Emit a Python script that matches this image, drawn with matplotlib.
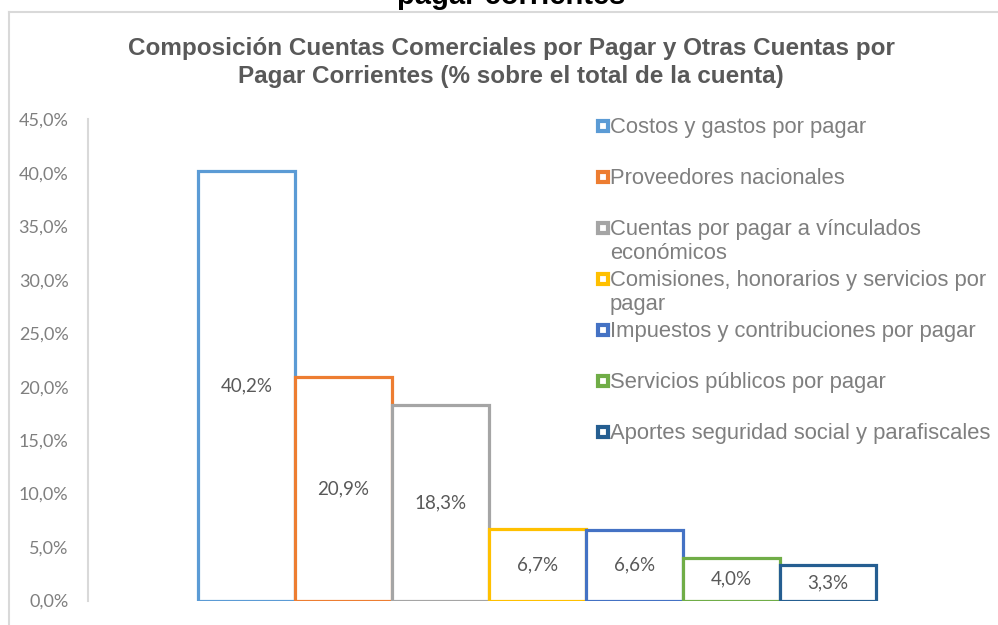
import matplotlib
matplotlib.use("Agg")
import matplotlib.pyplot as plt
from matplotlib.lines import Line2D
from matplotlib.ticker import FuncFormatter


CATEGORIES = [
    "Costos y gastos por pagar",
    "Proveedores nacionales",
    "Cuentas por pagar a vínculados\neconómicos",
    "Comisiones, honorarios y servicios por\npagar",
    "Impuestos y contribuciones por pagar",
    "Servicios públicos por pagar",
    "Aportes seguridad social y parafiscales",
]
VALUES = [40.2, 20.9, 18.3, 6.7, 6.6, 4.0, 3.3]
COLORS = ["#5b9bd5", "#ed7d31", "#a5a5a5", "#ffc000", "#4472c4", "#70ad47", "#255e91"]
Y_TICKS = [0, 5, 10, 15, 20, 25, 30, 35, 40, 45]

TITLE_1 = "Composición Cuentas Comerciales por Pagar y Otras Cuentas por"
TITLE_2 = "Pagar Corrientes (% sobre el total de la cuenta)"
TOP_TEXT = "pagar corrientes"

W, H = 998, 625


def pct(value, pos=None):
    return f"{value:.1f}%".replace(".", ",")


def main():
    fig = plt.figure(figsize=(W / 100, H / 100), dpi=100)

    # chart frame (only top and left edges are visible in the crop)
    fig.add_artist(Line2D([9 / W, 1], [1 - 12 / H, 1 - 12 / H], color="#d9d9d9", lw=1.5))
    fig.add_artist(Line2D([9 / W, 9 / W], [0, 1 - 12 / H], color="#d9d9d9", lw=1.5))

    fig.text(511 / W, 1 - 4.5 / H, TOP_TEXT, ha="center", va="baseline",
             fontsize=21, fontweight="bold", family="Liberation Sans", color="black")

    fig.text(511 / W, 1 - 48 / H, TITLE_1, ha="center", va="center",
             fontsize=17.5, fontweight="bold", family="Liberation Sans", color="#595959")
    fig.text(511 / W, 1 - 76 / H, TITLE_2, ha="center", va="center",
             fontsize=17.5, fontweight="bold", family="Liberation Sans", color="#595959")

    ax = fig.add_axes([88 / W, 1 - 600.5 / H, (986 - 88) / W, (600.5 - 119.5) / H])
    x = list(range(len(VALUES)))
    bars = ax.bar(x, VALUES, width=1.0, facecolor="white", edgecolor=COLORS, linewidth=2.3)

    for bar, value in zip(bars, VALUES):
        ax.text(bar.get_x() + bar.get_width() / 2, value / 2, pct(value),
                ha="center", va="center", fontsize=13.5, family="Lato", color="#595959")

    ax.set_xlim(-1.635, 7.63)
    ax.set_ylim(0, 45)
    ax.set_yticks(Y_TICKS)
    ax.yaxis.set_major_formatter(FuncFormatter(pct))
    ax.set_xticks([])
    ax.tick_params(axis="y", length=0, pad=14, labelsize=13, labelcolor="#7f7f7f")
    for label in ax.get_yticklabels():
        label.set_family("Lato")
    for side in ["top", "right", "bottom"]:
        ax.spines[side].set_visible(False)
    ax.spines["left"].set_color("#d9d9d9")
    ax.spines["left"].set_linewidth(1.5)

    # legend drawn by hand to keep Excel-like fixed row spacing
    row_y = [126, 177, 228, 279, 330, 381, 432]
    for label, color, y in zip(CATEGORIES, COLORS, row_y):
        fig.add_artist(Line2D([602.5 / W], [1 - y / H], marker="s", markersize=7,
                              markerfacecolor="white", markeredgecolor=color,
                              markeredgewidth=3, linestyle="none"))
        fig.text(610 / W, 1 - (y - 9) / H, label, ha="left", va="top",
                 fontsize=15.8, family="Liberation Sans", color="#7f7f7f",
                 linespacing=1.2)

    fig.savefig("out.png", dpi=100)


if __name__ == "__main__":
    main()
